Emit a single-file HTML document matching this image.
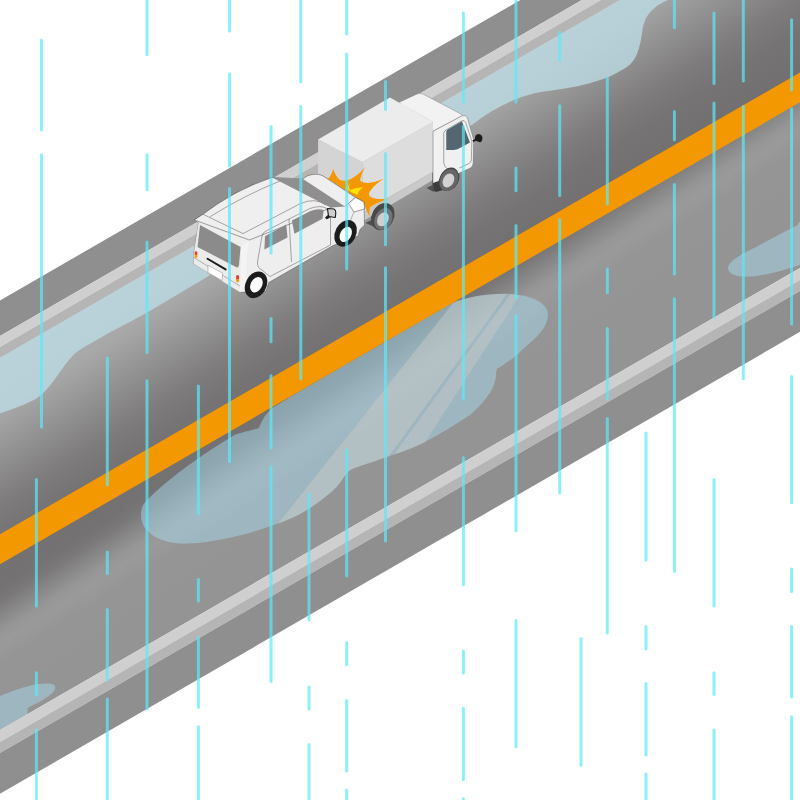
<!DOCTYPE html>
<html><head><meta charset="utf-8"><title>Rainy road collision</title>
<style>
html,body{margin:0;padding:0;background:#fff;font-family:"Liberation Sans",sans-serif;}
svg{display:block}
</style></head><body>
<svg width="800" height="800" viewBox="0 0 800 800">
<defs>
<linearGradient id="gUp" gradientUnits="userSpaceOnUse" x1="162.96" y1="256.63" x2="263.74" y2="415.34"><stop offset="0.0000" stop-color="#b1b1b1"/><stop offset="0.2394" stop-color="#a7a7a7"/><stop offset="0.4202" stop-color="#959494"/><stop offset="0.6543" stop-color="#7d7b7b"/><stop offset="0.7979" stop-color="#757373"/><stop offset="1.0000" stop-color="#716f6f"/></linearGradient>
<linearGradient id="gLo" gradientUnits="userSpaceOnUse" x1="254.48" y1="395.15" x2="357.35" y2="554.89"><stop offset="0.0000" stop-color="#727070"/><stop offset="0.1368" stop-color="#747272"/><stop offset="0.1895" stop-color="#7a7878"/><stop offset="0.2632" stop-color="#8a8989"/><stop offset="0.3263" stop-color="#969696"/><stop offset="0.3758" stop-color="#9a9a9a"/><stop offset="0.4684" stop-color="#959595"/><stop offset="0.7895" stop-color="#949494"/><stop offset="1.0000" stop-color="#949494"/></linearGradient>
</defs>
<rect width="800" height="800" fill="#ffffff"/>
<g id="road">
<polygon points="-20.0,312.0 820.0,-173.0 820.0,-137.5 -20.0,347.5" fill="#8f8f8f"/>
<polygon points="-20.0,347.5 820.0,-137.5 820.0,-126.5 -20.0,358.5" fill="#cfcfcf"/>
<polygon points="-20.0,358.5 820.0,-126.5 820.0,-115.5 -20.0,369.5" fill="#b5b5b5"/>
<polygon points="-20.0,369.5 820.0,-115.5 820.0,61.9 -20.0,546.9" fill="url(#gUp)"/>
<polygon points="-20.0,574.8 820.0,89.8 820.0,256.5 -20.0,741.5" fill="url(#gLo)"/>
<polygon points="-20.0,741.5 820.0,256.5 820.0,268.5 -20.0,753.5" fill="#cfcfcf"/>
<polygon points="-20.0,753.5 820.0,268.5 820.0,279.5 -20.0,764.5" fill="#b5b5b5"/>
<polygon points="-20.0,764.5 820.0,279.5 820.0,320.3 -20.0,805.3" fill="#8f8f8f"/>
</g>
<g id="puddles">
<path d="M-5,360.9 L218,232.1 L218,270 L202,280 C180,293 160,305 141.7,315.6 C125,325 112,331 101,337.5 C86,346 78,350 72.5,356 C66,363 62,369 57,376 C50,386 42,396 33.7,400 C22,406 10,410 -5,415 Z" fill="rgba(189,220,229,0.78)"/>
<path d="M430,109.7 L640,-11.5 L640,-5 L680,-5 C668,0 660,3 655,7.5 C648,13 644,20 642.5,30 C641,40 640,46 637,54 C633,63 628,67 620,71 C612,76 606,78 600,80 C585,85 570,88 555,90 C540,91.5 528,94.5 517.5,98.5 C502,105 488,112.5 472,125 C455,131 440,126 430,120 Z" fill="rgba(189,220,229,0.78)"/>
<clipPath id="bigclip"><path d="M141,515 C141,508 143,504 146.5,501 C160,486 190,462 234.5,435 C245,431 254,430 259,428 C260,425 261,423 262,421 C265,415 269,411 273,407.5 L300,391 L452,303 C467,297 490,293 510,294 C530,295 545,302 547.6,311.5 C549,320 545,328 537.5,336 C530,343 522,350 515,356.5 C508,362 501,366 497,369 C496,372 496,374 496,376.75 C495,383 493,388 490,392.5 C485,401 478,408 470,415 C455,425 440,434 425,442 C413,448 402,452 391,455.5 C378,460 366,464 356,467.5 C351,469 348,471 346,474 C342,480 338,486 332.5,491 C322,500 311,508 298.7,514.7 C288,520 277,524 265,528 C245,535 215,542 190,543.6 C165,545 141,535 141,515 Z"/></clipPath>
<path d="M141,515 C141,508 143,504 146.5,501 C160,486 190,462 234.5,435 C245,431 254,430 259,428 C260,425 261,423 262,421 C265,415 269,411 273,407.5 L300,391 L452,303 C467,297 490,293 510,294 C530,295 545,302 547.6,311.5 C549,320 545,328 537.5,336 C530,343 522,350 515,356.5 C508,362 501,366 497,369 C496,372 496,374 496,376.75 C495,383 493,388 490,392.5 C485,401 478,408 470,415 C455,425 440,434 425,442 C413,448 402,452 391,455.5 C378,460 366,464 356,467.5 C351,469 348,471 346,474 C342,480 338,486 332.5,491 C322,500 311,508 298.7,514.7 C288,520 277,524 265,528 C245,535 215,542 190,543.6 C165,545 141,535 141,515 Z" fill="rgba(168,220,241,0.48)"/>
<g clip-path="url(#bigclip)"><polygon points="265,540 462,292 507,294 328,540" fill="rgba(205,203,200,0.45)"/><polygon points="332,540 510.5,294 520,295 362,540" fill="rgba(205,203,200,0.42)"/></g>
<path d="M728,268.5 C728,263 736,257 750,250 C765,242.5 780,234 791,228.5 C795,226.5 797,225.5 797.5,225 C798,223 799,222 805,219 L805,263 C790,268.5 775,273 760,275.5 C745,278 729,277 728,268.5 Z" fill="rgba(168,220,241,0.48)"/>
<path d="M-5,698 C10,692 25,686 37.5,684 C46,683 54,683 55,686 C56,689 54,692 50,695 C44,700 35,704 27.5,708 L27.5,714 L-5,733 Z" fill="rgba(168,220,241,0.48)"/>
</g>
<polygon points="-20.0,545.9 820.0,60.9 820.0,90.8 -20.0,575.8" fill="#f39800"/>
<g id="truck">
<!-- side skirt -->
<path d="M362.5,205 L433,168 L433,180 L362.5,221.5 Z" fill="#c9c9c9"/>
<!-- rear mud flap -->
<path d="M365.6,223 L372.8,219.5 L373.2,226.5 Z" fill="#505050"/>
<!-- rear wheel arch, tire, hub -->
<g transform="translate(382.8,216.6) rotate(-62)"><ellipse rx="14.2" ry="11" fill="#4a4a4a"/></g>
<g transform="translate(383.4,218.9) rotate(-62)"><ellipse rx="11.4" ry="8.5" fill="#747474"/><ellipse cx="-0.6" cy="-0.2" rx="7.4" ry="5.4" fill="#cfcfcf"/></g>
<!-- front wheel arch + mud flap -->
<path d="M432.5,172 L442.5,168 L443,190 L436,192 L432.5,190 Z" fill="#3c3c3c"/>
<path d="M426.5,188 L433.5,184.5 L434,192 Z" fill="#505050"/>
<g transform="translate(448.6,178.6) rotate(-62)"><ellipse rx="13" ry="10.2" fill="#444"/></g>
<g transform="translate(448.9,180) rotate(-62)"><ellipse rx="11.6" ry="8.7" fill="#666"/><ellipse cx="-0.6" cy="-0.2" rx="7.4" ry="5.4" fill="#d2d2d2"/></g>
<!-- box rear face -->
<path d="M318.1,139.4 L362.5,161.9 L362.5,213 L318.1,182 Z" fill="#d4d4d4"/>
<!-- box side face -->
<path d="M362.5,161.9 L433,122 L433,172 L388,198 L362.5,213 Z" fill="#dddddd"/>
<path d="M433,172 L388,198 L362.5,213" fill="none" stroke="#bdbdbd" stroke-width="0.8"/>
<!-- cab roof (drawn before box top so the seam has no line) -->
<path d="M398.75,102.5 L416.5,94.2 Q420,92.5 423.5,94.3 L460,113.5 Q463,115 462.5,115.6 L433,131.25 L433,122 Z" fill="#f2f2f2"/>
<path d="M398.75,102.5 L416.5,94.2 Q420,92.5 423.5,94.3 L460,113.5 Q463,115 462.5,115.6 L433,131.25" fill="none" stroke="#777" stroke-width="0.45"/>
<!-- box top -->
<path d="M318.1,139.4 L390,97.5 L433,122 L362.5,161.9 Z" fill="#ececec"/>
<!-- cab side face -->
<path d="M433,122 L433,131.25 L462.5,115.6 Q466,114.5 467.5,118 L473.75,140 L473.2,163 Q473,167 469.5,168.5 L458.5,173.5 Q456,166 448,168 Q441,171 438.5,181 L433,183 Z" fill="#f0f0f0"/>
<path d="M433,131.25 L462.5,115.6 Q466,114.5 467.5,118 L473.75,140 L473.2,163 Q473,167 469.5,168.5 L458.5,173.5 M433,131.25 L433,183" fill="none" stroke="#666" stroke-width="0.5" stroke-linejoin="round"/>
<!-- door outline -->
<path d="M443.75,133.5 Q443.8,131 446,130 L461.5,121 Q464.5,119.5 465.7,122.5 L471.9,141.25 L471.3,160 Q471.2,162.5 469,163.5 L459.4,168 M443.75,133.5 L443.75,163 Q444,167 448.5,170" fill="none" stroke="#555" stroke-width="0.5"/>
<!-- window -->
<path d="M446.25,132 Q446.3,130.3 447.8,129.5 L461.9,121.25 L470,142.5 L457.5,149.2 Q453,150.3 446.25,150 Z" fill="#546670"/>
<!-- mirror -->
<path d="M472.5,140.2 L475,139 Q474.5,134.5 478.5,134 Q482.7,134.5 482.4,138.5 Q482,142.8 479,142 L476,140.8 L473.2,142 Z" fill="#1c1c1c"/>

</g>
<g id="boom">
<path d="M328,178.75 Q332,175 333.1,168.75 Q335.5,176.5 340,180 Q345,182 351,179 Q360,174 365.5,166.5 Q361,174 360,180.6 Q362,183 368,183 Q376,182 383.6,179 Q373,185 368.75,193.75 Q369,197.5 375,198.5 Q382,199.6 389.2,198.4 Q378,201.5 370,207.5 Q368.5,212 370.6,217.8 Q366,211 363.75,202.5 Z" fill="#f39800"/>
<path d="M352.6,180.4 Q349.3,183.5 348.8,187.5 L350.5,190 Q356,187.5 363,187.6 Q358.5,190.5 357.5,195 L352,192.5 L346.5,188.5 Q349,184 352.6,180.4 Z" fill="#ffe100"/>
<path d="M306.5,172.5 L309.5,177 L308.5,177.5 Z" fill="#f39800"/>

</g>
<g id="car">
<!-- body silhouette -->
<path d="M194.25,219.9 L203,214.25 Q234,190.5 270.5,178 L273,177.5 L302.5,179 L307.5,176 Q313,173.5 319,174.5 L323,176 L355.5,197.5 L364,202 L364.5,225 L360,229.5 L358,236 L333,245.6 L268.75,282.5 L266,291 L241.25,292.3 L193.75,263.75 L193.6,255.5 L194.9,246.75 L198.6,223 Z" fill="#eeeeee" stroke="#555" stroke-width="0.5" stroke-linejoin="round"/>
<!-- rear face slightly different shade -->
<path d="M198.6,223 L241.25,246.9 L240,292.3 L193.75,263.75 L193.6,255.5 L194.9,246.75 Z" fill="#ebebeb"/>
<!-- d-pillar highlight -->
<path d="M241.25,246.9 L249,240.5 L246,262 L247,289 L240,292.3 Z" fill="#f4f4f4"/>
<!-- roof -->
<path d="M194.25,219.9 L203,214.25 Q234,190.5 270.5,178 L273,177.5 L331.5,207.5 L249.4,240 Z" fill="#efefef" stroke="#444" stroke-width="0.5" stroke-linejoin="round"/>
<!-- roof panel lines -->
<path d="M203,214.25 L243,233.6 M209.9,216.75 Q245,195 280,181 M243,233.6 L300,203.75 Q315,197 326,205" fill="none" stroke="#444" stroke-width="0.45"/>
<!-- windshield -->
<path d="M273,177.5 L302.5,179 L344.5,206.5 L331.5,207.5 Z" fill="#8f8f8f"/>
<!-- hood -->
<path d="M302.5,179 L307.5,176 Q313,173.5 319,174.5 L323,176 L355.5,197.5 L348.5,203.5 L344.5,206.5 Z" fill="#efefef" stroke="#555" stroke-width="0.4"/>
<!-- headlight -->
<path d="M348.5,203.5 L355.5,197.5 L364,202 L364.5,209 L354,212 Z" fill="#ffffff" stroke="#444" stroke-width="0.5" stroke-linejoin="round"/>
<path d="M354,212 L351,219 L349,226" fill="none" stroke="#555" stroke-width="0.4"/>
<!-- rear window -->
<path d="M200,225 L240.6,246.9 L239,265 Q238.5,269 235,266.5 L197.5,246.9 Z" fill="#8b8b8b"/>
<!-- side windows -->
<path d="M265,236.25 L286.25,224.4 L287.5,237.5 L264.4,249.4 Z" fill="#8a8a8a"/>
<path d="M291.9,220.6 L310,211.25 Q318,208 323.75,210 L322.5,218.75 L294.4,233.75 Z" fill="#8a8a8a"/>
<!-- door outlines -->
<path d="M262,236 Q263,232 266,231 L289,219 L291.5,262 M289,219 L310,208.5 Q320,205 326,208 L330.5,217 L330.5,245 M262,236 L257.5,262 Q257,268 262,270 L270,276.5 L330.5,245" fill="none" stroke="#444" stroke-width="0.45"/>
<!-- rear details -->
<path d="M193.75,257.5 L240,286" fill="none" stroke="#555" stroke-width="0.4"/>
<path d="M207.5,258.75 L225.6,269.4" stroke="#1a1a1a" stroke-width="2" stroke-linecap="round"/>
<path d="M207.9,265.25 L222.5,273.1 L222.1,280.6 L207.9,272.5 Z" fill="#ffffff" stroke="#888" stroke-width="0.5"/>
<rect x="194.7" y="251.5" width="2.6" height="3.4" fill="#e8382a"/>
<rect x="194.7" y="254.9" width="2.6" height="2.9" fill="#f39800"/>
<path d="M236.2,275.5 Q237.5,274.5 239,276 L239,279 L236.2,279 Z" fill="#e8382a"/>
<path d="M236.2,279 L239,279 L239,281.5 Q237.5,283 236.2,281.5 Z" fill="#f39800"/>
<!-- mirror -->
<path d="M327.5,208.5 L334,209 Q336,210 335.8,213 L335.3,217.5 L328.5,216.5 Z" fill="#cfcfcf" stroke="#1a1a1a" stroke-width="1.1" stroke-linejoin="round"/>
<path d="M328.5,215 L325.5,217.5 L326.5,219 L329.5,217.5 Z" fill="#1a1a1a" stroke="#1a1a1a" stroke-width="0.8"/>
<!-- wheels -->
<g transform="translate(256,284.8) rotate(-62)"><ellipse rx="14" ry="10.4" fill="#1c1c1c"/><ellipse cx="0.3" cy="0.3" rx="8.2" ry="5.7" fill="#ffffff"/></g>
<g transform="translate(345.6,233.4) rotate(-62)"><ellipse rx="14" ry="10.4" fill="#1c1c1c"/><ellipse cx="-0.8" cy="0.6" rx="8.2" ry="5.5" fill="#ffffff"/></g>

</g>
<g id="rain">
<g stroke="rgb(91,234,251)" stroke-opacity="0.70" stroke-width="3.0" stroke-linecap="round" fill="none">
<line x1="41.5" y1="39.9" x2="41.5" y2="130.1"/>
<line x1="41.5" y1="154.7" x2="41.5" y2="427.1"/>
<line x1="36.4" y1="479.4" x2="36.4" y2="606.1"/>
<line x1="36.4" y1="672.8" x2="36.4" y2="694.5"/>
<line x1="36.4" y1="730.1" x2="36.4" y2="809.1"/>
<line x1="107.3" y1="357.9" x2="107.3" y2="485.1"/>
<line x1="107.3" y1="552.1" x2="107.3" y2="573.6"/>
<line x1="107.3" y1="609.4" x2="107.3" y2="680.1"/>
<line x1="107.3" y1="699.1" x2="107.3" y2="809.1"/>
<line x1="147.0" y1="-8.9" x2="147.0" y2="54.8"/>
<line x1="147.0" y1="154.7" x2="147.0" y2="189.8"/>
<line x1="147.0" y1="242.1" x2="147.0" y2="352.5"/>
<line x1="147.0" y1="380.8" x2="147.0" y2="709.1"/>
<line x1="198.4" y1="385.9" x2="198.4" y2="513.8"/>
<line x1="198.4" y1="579.4" x2="198.4" y2="601.1"/>
<line x1="198.4" y1="637.4" x2="198.4" y2="707.3"/>
<line x1="198.4" y1="726.8" x2="198.4" y2="809.1"/>
<line x1="229.5" y1="-8.9" x2="229.5" y2="31.1"/>
<line x1="229.5" y1="73.7" x2="229.5" y2="166.1"/>
<line x1="229.5" y1="188.4" x2="229.5" y2="461.5"/>
<line x1="271.0" y1="126.6" x2="271.0" y2="252.9"/>
<line x1="271.0" y1="318.4" x2="271.0" y2="341.7"/>
<line x1="271.0" y1="375.8" x2="271.0" y2="448.1"/>
<line x1="271.0" y1="466.9" x2="271.0" y2="681.6"/>
<line x1="300.8" y1="-8.9" x2="300.8" y2="81.8"/>
<line x1="300.8" y1="106.4" x2="300.8" y2="378.8"/>
<line x1="309.0" y1="493.9" x2="309.0" y2="620.1"/>
<line x1="309.0" y1="687.1" x2="309.0" y2="709.1"/>
<line x1="309.0" y1="744.4" x2="309.0" y2="809.1"/>
<line x1="346.7" y1="-8.9" x2="346.7" y2="33.9"/>
<line x1="346.7" y1="54.1" x2="346.7" y2="269.1"/>
<line x1="346.7" y1="450.1" x2="346.7" y2="576.1"/>
<line x1="346.7" y1="642.5" x2="346.7" y2="664.8"/>
<line x1="346.7" y1="700.5" x2="346.7" y2="771.1"/>
<line x1="346.7" y1="790.1" x2="346.7" y2="809.1"/>
<line x1="385.5" y1="81.4" x2="385.5" y2="109.5"/>
<line x1="385.5" y1="153.6" x2="385.5" y2="244.8"/>
<line x1="385.5" y1="267.8" x2="385.5" y2="540.9"/>
<line x1="463.4" y1="12.9" x2="463.4" y2="102.1"/>
<line x1="463.4" y1="126.6" x2="463.4" y2="399.1"/>
<line x1="463.4" y1="457.8" x2="463.4" y2="584.8"/>
<line x1="463.4" y1="650.9" x2="463.4" y2="673.1"/>
<line x1="463.4" y1="708.3" x2="463.4" y2="779.5"/>
<line x1="463.4" y1="798.7" x2="463.4" y2="809.1"/>
<line x1="516.0" y1="-8.9" x2="516.0" y2="102.1"/>
<line x1="516.0" y1="168.1" x2="516.0" y2="190.8"/>
<line x1="516.0" y1="225.5" x2="516.0" y2="297.9"/>
<line x1="516.0" y1="316.1" x2="516.0" y2="530.8"/>
<line x1="516.0" y1="620.5" x2="516.0" y2="746.8"/>
<line x1="559.7" y1="32.5" x2="559.7" y2="60.5"/>
<line x1="559.7" y1="105.7" x2="559.7" y2="195.5"/>
<line x1="559.7" y1="219.8" x2="559.7" y2="492.9"/>
<line x1="581.0" y1="638.4" x2="581.0" y2="765.3"/>
<line x1="607.3" y1="78.1" x2="607.3" y2="204.1"/>
<line x1="607.3" y1="269.1" x2="607.3" y2="292.8"/>
<line x1="607.3" y1="328.5" x2="607.3" y2="399.1"/>
<line x1="607.3" y1="418.6" x2="607.3" y2="633.1"/>
<line x1="646.0" y1="433.1" x2="646.0" y2="560.1"/>
<line x1="646.0" y1="626.6" x2="646.0" y2="648.9"/>
<line x1="646.0" y1="683.6" x2="646.0" y2="755.1"/>
<line x1="646.0" y1="774.1" x2="646.0" y2="809.1"/>
<line x1="674.4" y1="-8.9" x2="674.4" y2="27.8"/>
<line x1="674.4" y1="111.5" x2="674.4" y2="139.8"/>
<line x1="674.4" y1="184.4" x2="674.4" y2="274.1"/>
<line x1="674.4" y1="298.8" x2="674.4" y2="571.3"/>
<line x1="714.0" y1="12.9" x2="714.0" y2="83.5"/>
<line x1="714.0" y1="103.1" x2="714.0" y2="317.4"/>
<line x1="714.0" y1="479.4" x2="714.0" y2="606.1"/>
<line x1="714.0" y1="672.8" x2="714.0" y2="694.5"/>
<line x1="714.0" y1="730.1" x2="714.0" y2="809.1"/>
<line x1="743.3" y1="-8.9" x2="743.3" y2="81.1"/>
<line x1="743.3" y1="106.4" x2="743.3" y2="378.8"/>
<line x1="791.6" y1="19.7" x2="791.6" y2="90.1"/>
<line x1="791.6" y1="109.1" x2="791.6" y2="324.1"/>
<line x1="791.6" y1="376.5" x2="791.6" y2="502.7"/>
<line x1="791.6" y1="569.1" x2="791.6" y2="591.5"/>
<line x1="791.6" y1="626.6" x2="791.6" y2="697.1"/>
<line x1="791.6" y1="716.7" x2="791.6" y2="809.1"/>
</g>
</g>
</svg>
</body></html>
